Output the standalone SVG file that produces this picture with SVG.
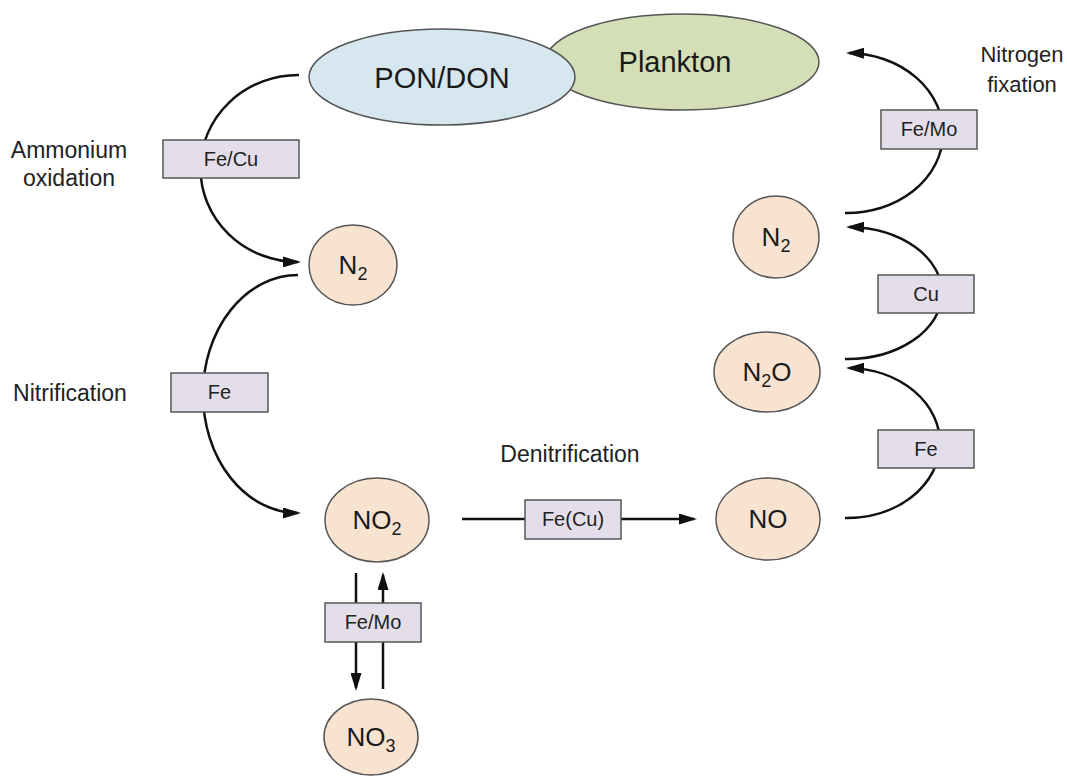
<svg xmlns="http://www.w3.org/2000/svg" width="1067" height="777" viewBox="0 0 1067 777">
<style>
.lbl{font-family:"Liberation Sans",Arial,sans-serif;font-size:23px;fill:#222;text-anchor:middle}
.lbs{font-family:"Liberation Sans",Arial,sans-serif;font-size:22px;fill:#222;text-anchor:middle}
.nt{font-family:"Liberation Sans",Arial,sans-serif;font-size:26px;fill:#1a1a1a;text-anchor:middle}
.big{font-family:"Liberation Sans",Arial,sans-serif;font-size:29px;fill:#1a1a1a;text-anchor:middle}
.bt{font-family:"Liberation Sans",Arial,sans-serif;font-size:20px;fill:#222;text-anchor:middle}
.circ{fill:#f8e3d1;stroke:#555;stroke-width:1.5}
.box{fill:#e3dee9;stroke:#555;stroke-width:1.5}
.con{fill:none;stroke:#111;stroke-width:2.5}
</style>
<defs>
<marker id="ah" markerUnits="userSpaceOnUse" markerWidth="18" markerHeight="11" refX="15" refY="5.5" orient="auto">
<path d="M0,0 L18,5.5 L0,11 z" fill="#111"/>
</marker>
</defs>
<rect width="1067" height="777" fill="#fff"/>

<g id="plankton">
<ellipse cx="682" cy="62" rx="137" ry="48" fill="#d4dfb8" stroke="#555" stroke-width="1.5"/>
<text class="big" x="675" y="72">Plankton</text>
</g>
<g id="pon-don">
<ellipse cx="442" cy="77" rx="133" ry="48" fill="#d6e7ef" stroke="#555" stroke-width="1.5"/>
<text class="big" x="442" y="88">PON/DON</text>
</g>

<g id="connectors">
<path class="con" d="M 299 75 A 98 93.5 0 0 0 298 262" marker-end="url(#ah)"/>
<path class="con" d="M 298 275 A 95 119 0 0 0 298 513" marker-end="url(#ah)"/>
<path class="con" d="M 462 519 L 694 519" marker-end="url(#ah)"/>
<path class="con" d="M 356 573 L 356 688" marker-end="url(#ah)"/>
<path class="con" d="M 383 689 L 383 575" marker-end="url(#ah)"/>
<path class="con" d="M 845 518 A 93 75 0 0 0 849 368" marker-end="url(#ah)"/>
<path class="con" d="M 845 359 A 95 66 0 0 0 849 227" marker-end="url(#ah)"/>
<path class="con" d="M 845 213 A 96 80 0 0 0 849 53" marker-end="url(#ah)"/>
</g>

<g id="n2-left">
<ellipse class="circ" cx="353" cy="265" rx="44" ry="40"/>
<text class="nt" x="353" y="274">N<tspan font-size="18" dy="6">2</tspan></text>
</g>
<g id="no2">
<ellipse class="circ" cx="377" cy="520" rx="52" ry="42"/>
<text class="nt" x="377" y="529">NO<tspan font-size="18" dy="6">2</tspan></text>
</g>
<g id="no3">
<ellipse class="circ" cx="371" cy="737" rx="47" ry="38"/>
<text class="nt" x="371" y="746">NO<tspan font-size="18" dy="6">3</tspan></text>
</g>
<g id="no">
<ellipse class="circ" cx="768" cy="519" rx="52" ry="41"/>
<text class="nt" x="768" y="528">NO</text>
</g>
<g id="n2o">
<ellipse class="circ" cx="767" cy="372" rx="53" ry="40"/>
<text class="nt" x="767" y="381">N<tspan font-size="18" dy="6">2</tspan><tspan dy="-6">O</tspan></text>
</g>
<g id="n2-right">
<ellipse class="circ" cx="776" cy="237" rx="43" ry="41"/>
<text class="nt" x="776" y="246">N<tspan font-size="18" dy="6">2</tspan></text>
</g>

<g id="enz-fecu">
<rect class="box" x="163" y="140" width="136" height="38"/>
<text class="bt" x="231" y="166">Fe/Cu</text>
</g>
<g id="enz-fe-left">
<rect class="box" x="171" y="373" width="97" height="39"/>
<text class="bt" x="219.5" y="399">Fe</text>
</g>
<g id="enz-fe-cu-paren">
<rect class="box" x="525" y="500" width="96" height="39"/>
<text class="bt" x="573" y="526">Fe(Cu)</text>
</g>
<g id="enz-femo-bottom">
<rect class="box" x="325" y="603" width="96" height="39"/>
<text class="bt" x="373" y="629">Fe/Mo</text>
</g>
<g id="enz-fe-right">
<rect class="box" x="878" y="430" width="96" height="38"/>
<text class="bt" x="926" y="456">Fe</text>
</g>
<g id="enz-cu">
<rect class="box" x="878" y="275" width="96" height="38"/>
<text class="bt" x="926" y="301">Cu</text>
</g>
<g id="enz-femo-top">
<rect class="box" x="881" y="110" width="96" height="39"/>
<text class="bt" x="929" y="136">Fe/Mo</text>
</g>

<g id="labels">
<text class="lbl" x="69" y="158">Ammonium</text>
<text class="lbl" x="69" y="186">oxidation</text>
<text class="lbl" x="70" y="401">Nitrification</text>
<text class="lbl" x="570" y="462">Denitrification</text>
<text class="lbs" x="1022" y="62">Nitrogen</text>
<text class="lbs" x="1022" y="92">fixation</text>
</g>
</svg>
